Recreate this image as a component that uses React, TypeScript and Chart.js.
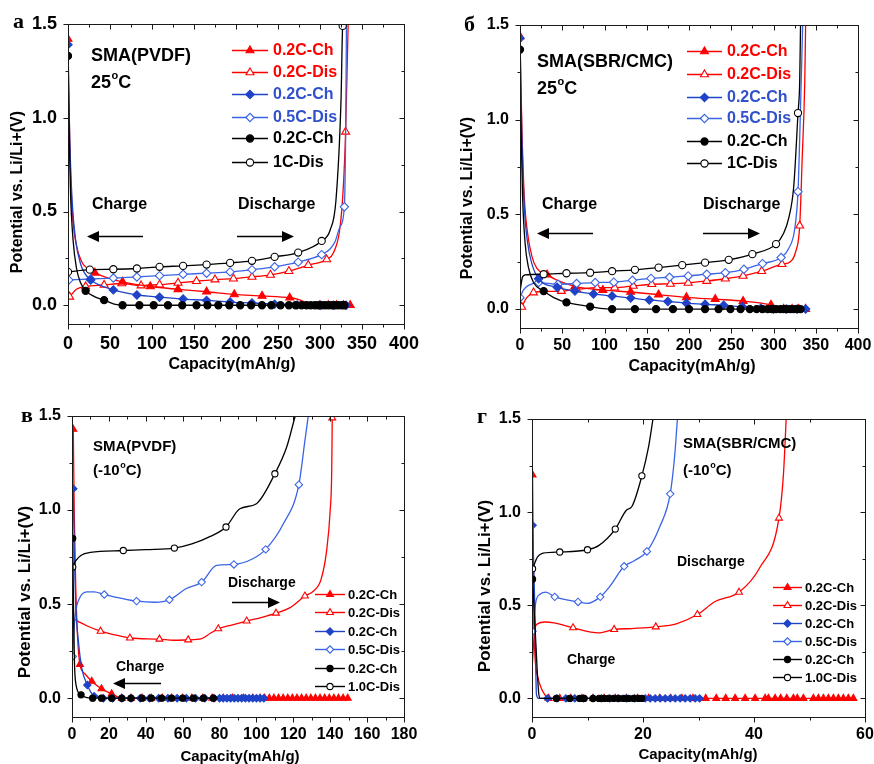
import React, { useEffect, useRef } from "react";
import { Chart, registerables } from "chart.js";
Chart.register(...registerables);

// ---------- DATA (capacity mAh/g, potential V) ----------
// m = points carrying a marker, b = extra curve points (no marker)
// Panel a: SMA(PVDF) 25°C
const aRedChM = [[0,1.42],[32,0.173],[65,0.125],[98,0.1],[131,0.085],[165,0.072],[198,0.058],[231,0.05],[264,0.04],[300,0],[310,0],[320,0],[328,0],[336,0]];
const aRedChB = [[1,1.1],[3,0.7],[6,0.45],[10,0.32],[16,0.235],[22,0.2],[48,0.145],[275,0.03],[285,0.012],[293,0.003]];
const aRedDisM = [[2,0.045],[21,0.1],[43,0.108],[64,0.116],[87,0.105],[109,0.11],[131,0.119],[153,0.128],[175,0.137],[197,0.142],[219,0.151],[241,0.162],[263,0.182],[286,0.214],[308,0.244],[330.5,0.925]];
const aRedDisB = [[10,0.085],[316,0.28],[324,0.42],[328,0.65],[332.5,1.3],[333.5,1.5]];
const aBlueChM = [[0,1.39],[27,0.135],[54,0.082],[82,0.055],[109,0.043],[137,0.033],[165,0.026],[193,0.017],[219,0.012],[246,0.006],[273,0.002],[300,0],[316,0],[331,0]];
const aBlueChB = [[2,0.9],[5,0.55],[9,0.35],[15,0.22],[20,0.17]];
const aBlueDisM = [[1,0.135],[27,0.14],[54,0.145],[82,0.151],[109,0.158],[137,0.165],[165,0.171],[193,0.178],[219,0.19],[246,0.205],[274,0.23],[302,0.27],[329,0.525]];
const aBlueDisB = [[312,0.3],[318,0.34],[324,0.42],[330.5,0.9],[331.5,1.5]];
const aBlackChM = [[0,1.33],[21,0.077],[43,0.027],[65,0],[85,0],[102,0],[119,0],[136,0],[153,0],[166,0],[179,0],[192,0],[205,0],[218,0],[231,0],[242,0],[253,0],[263,0],[271,0],[278,0],[284,0],[289,0],[294,0],[298,0],[302,0],[306,0],[310,0],[314,0],[318,0],[322,0],[326,0],[329,0]];
const aBlackChB = [[1,1.0],[3,0.6],[6,0.35],[10,0.2],[15,0.12],[32,0.045],[55,0.006]];
const aBlackDisM = [[0,0.178],[26,0.19],[54,0.192],[82,0.196],[109,0.205],[137,0.21],[165,0.217],[193,0.226],[219,0.237],[246,0.258],[274,0.281],[302,0.343],[327,1.49]];
const aBlackDisB = [[312,0.4],[319,0.56],[325,1.09],[327.6,1.5]];

// Panel б: SMA(SBR/CMC) 25°C
const bRedChM = [[0,1.44],[32,0.182],[65,0.12],[98,0.1],[131,0.09],[164,0.076],[197,0.062],[231,0.052],[264,0.042],[297,0.022],[312,0],[322,0],[330,0],[338,0]];
const bRedChB = [[2,1.0],[5,0.6],[9,0.4],[14,0.28],[20,0.215],[45,0.15],[306,0.008]];
const bRedDisM = [[2,0.011],[16,0.087],[49,0.095],[67,0.104],[91,0.113],[112,0.113],[134,0.122],[156,0.131],[178,0.133],[199,0.138],[221,0.148],[243,0.16],[264,0.175],[286,0.2],[310,0.237],[331,0.44]];
const bRedDisB = [[8,0.06],[30,0.093],[320,0.25],[326,0.3],[334,0.8],[337,1.2],[338,1.5]];
const bBlueChM = [[0,1.43],[22,0.16],[44,0.115],[65,0.095],[87,0.08],[109,0.069],[131,0.058],[153,0.048],[175,0.04],[197,0.031],[219,0.025],[241,0.02],[263,0.013],[285,0.005],[300,0],[315,0],[328,0],[338,0]];
const bBlueChB = [[2,0.95],[5,0.55],[9,0.35],[14,0.24]];
const bBlueDisM = [[0,0.06],[22,0.14],[45,0.131],[67,0.135],[89,0.14],[111,0.142],[133,0.152],[155,0.162],[177,0.168],[199,0.175],[221,0.184],[243,0.192],[265,0.21],[287,0.24],[309,0.272],[329,0.62]];
const bBlueDisB = [[4,0.1],[10,0.125],[318,0.32],[325,0.42],[331,0.9],[334.5,1.5]];
const bBlackChM = [[0,1.37],[28,0.095],[55,0.035],[83,0.013],[109,0],[136,0],[161,0],[181,0],[200,0],[219,0],[235,0],[249,0],[261,0],[272,0],[280,0],[287,0],[293,0],[298,0],[303,0],[308,0],[312,0],[316,0],[320,0],[324,0],[328,0],[332,0]];
const bBlackChB = [[1,1.0],[3,0.6],[6,0.35],[10,0.22],[16,0.14],[40,0.06],[95,0.004]];
const bBlackDisM = [[28,0.184],[55,0.189],[83,0.192],[109,0.2],[136,0.207],[164,0.219],[192,0.232],[219,0.245],[247,0.26],[275,0.29],[303,0.343],[329,1.035]];
const bBlackDisB = [[0,0.09],[3,0.17],[6,0.18],[312,0.4],[318,0.48],[324,0.65],[331,1.2],[332,1.5]];

// Panel в: SMA(PVDF) -10°C
const vRedChM = [[0.7,1.43],[4.3,0.18],[10.7,0.09],[16,0.05],[21.5,0.023],[27,0],[32,0],[38,0],[43,0],[49,0],[54,0],[60,0],[65,0],[71,0],[76,0],[82,0],[87,0],[93,0],[98,0],[102,0],[104.5,0],[107,0],[109.5,0],[112,0],[114.5,0],[117,0],[119.5,0],[122,0],[124.5,0],[127,0],[129.5,0],[132,0],[134.5,0],[137,0],[139.5,0],[142,0],[144.5,0],[147,0],[149.5,0]];
const vRedChB = [[1.2,1.0],[2,0.6],[3,0.33],[7,0.13],[25,0.006]];
const vRedDisM = [[15.5,0.356],[31.4,0.32],[47.4,0.314],[63,0.31],[79.3,0.369],[94.7,0.41],[110.6,0.452],[126.3,0.543],[141.1,1.49]];
const vRedDisB = [[0.2,0.3],[1,0.42],[3,0.41],[8,0.385],[24,0.335],[55,0.308],[70,0.315],[75,0.345],[87,0.39],[103,0.43],[118,0.48],[131,0.57],[135,0.63],[138,0.78],[140,1.0],[140.8,1.2]];
const vBlueChM = [[0.7,1.113],[8.3,0.07],[12,0.01],[17,0],[22,0],[27,0],[32,0],[37,0],[42,0],[47,0],[52,0],[57,0],[62,0],[67,0],[72,0],[77,0],[80,0],[82,0],[84,0],[86,0],[88,0],[90,0],[92,0],[94,0],[96,0],[98,0],[100,0],[102,0],[104,0]];
const vBlueChB = [[1.2,0.8],[2,0.5],[3.5,0.3],[5.3,0.16],[14.5,0.004]];
const vBlueDisM = [[0.4,0.222],[17.5,0.551],[35,0.516],[52.8,0.523],[70.3,0.617],[87.8,0.711],[105,0.791],[123,1.135]];
const vBlueDisB = [[1,0.35],[2,0.46],[4,0.53],[8,0.565],[12,0.565],[25,0.535],[45,0.51],[62,0.583],[78.4,0.706],[98,0.741],[114.6,0.927],[126.3,1.37],[128.1,1.5]];
const vBlackChM = [[0.4,0.85],[4.9,0.018],[11.2,0],[16,0],[21.5,0],[27,0],[32,0],[38,0],[43,0],[48.6,0],[54,0],[60,0],[65.8,0],[71.2,0],[76.6,0]];
const vBlackChB = [[0.8,0.5],[1.3,0.2],[2.2,0.07],[7.5,0.004],[79,0]];
const vBlackDisM = [[0.4,0.697],[27.8,0.785],[55.5,0.798],[83.5,0.91],[110,1.193]];
const vBlackDisB = [[2,0.73],[5,0.76],[10,0.775],[40,0.79],[65,0.82],[75,0.86],[91,1.007],[100,1.034],[116.4,1.335],[121,1.5]];

// Panel г: SMA(SBR/CMC) -10°C
const gRedChM = [[0.1,1.2],[3,0],[5,0],[7,0],[9,0],[11,0],[13,0],[15,0],[17,0],[19,0],[21,0],[23,0],[25,0],[27,0],[29,0],[31.3,0],[33.2,0],[34.9,0],[36.6,0],[38.4,0],[40.2,0],[42,0],[42.6,0],[43.8,0],[44.8,0],[45.9,0],[47.1,0],[47.8,0],[48.9,0],[50.7,0],[51.6,0],[52.5,0],[53.4,0],[54.3,0],[55.2,0],[56.1,0],[57,0],[57.9,0]];
const gRedChB = [[0.3,0.6],[0.5,0.25],[1,0.12],[1.6,0.06],[2.3,0.02]];
const gRedDisM = [[7.4,0.379],[14.8,0.37],[22.3,0.384],[29.8,0.45],[37.3,0.57],[44.5,0.968]];
const gRedDisB = [[0.05,0.18],[0.5,0.37],[1,0.4],[2.3,0.41],[4,0.405],[12,0.352],[18,0.375],[26,0.4],[33,0.52],[41,0.7],[45.3,1.2],[45.8,1.5]];
const gBlueChM = [[0.1,0.93],[2.8,0],[4.5,0],[6.1,0],[7.7,0],[9.3,0],[11,0],[12.5,0],[14,0],[15.5,0],[17,0],[18.5,0],[20.4,0],[21.3,0],[22.2,0],[23.1,0],[24,0],[24.9,0],[25.8,0],[26.7,0],[27.6,0],[28.5,0],[29.4,0],[30.2,0]];
const gBlueChB = [[0.5,0.5],[0.8,0.02],[1.2,0]];
const gBlueDisM = [[0.1,0.36],[4.1,0.545],[8.3,0.518],[12.3,0.545],[16.6,0.709],[20.7,0.789],[24.9,1.098]];
const gBlueDisB = [[0.7,0.52],[1.5,0.56],[2.5,0.57],[10,0.51],[14,0.6],[18.5,0.74],[23,0.92],[25.7,1.3],[26.2,1.5]];
const gBlackChM = [[0.1,0.64],[4.4,0],[6.8,0],[8.6,0],[9.4,0],[11,0],[12.1,0],[13,0],[13.8,0],[14.7,0],[15.6,0],[16.5,0],[17.4,0],[18.3,0],[19.2,0],[19.8,0]];
const gBlackChB = [[0.6,0.35],[1.2,0.03],[1.5,0]];
const gBlackDisM = [[0.1,0.696],[5,0.786],[10,0.798],[15,0.909],[19.8,1.195]];
const gBlackDisB = [[1,0.76],[2,0.78],[12,0.82],[17,1.01],[18,1.03],[21,1.35],[21.8,1.5]];

const legend25 = ["0.2C-Ch", "0.2C-Dis", "0.2C-Ch", "0.5C-Dis", "0.2C-Ch", "1C-Dis"];
const legendM10 = ["0.2C-Ch", "0.2C-Dis", "0.2C-Ch", "0.5C-Dis", "0.2C-Ch", "1.0C-Dis"];
const yTicks = [0, 0.5, 1.0, 1.5];
const yTitleText = "Potential vs. Li/Li+(V)";
const xTitleText = "Capacity(mAh/g)";

// ---------- STYLE ----------
const FONT = "'Liberation Sans', Arial, Helvetica, sans-serif";
const SERIF = "'Liberation Serif', 'Times New Roman', serif";
const RED = "#ff0000";
const BLUE_CH = "#1f43c8";
const BLUE_DIS = "#3a64e6";
const BLUE_TXT = "#3050cc";
const BLACK = "#000000";

type Style = "triangle" | "rectRot" | "circle";
const seriesStyles: { color: string; txt: string; style: Style; filled: boolean; order: number }[] = [
  { color: RED, txt: RED, style: "triangle", filled: true, order: 2 },
  { color: RED, txt: RED, style: "triangle", filled: false, order: 2 },
  { color: BLUE_CH, txt: BLUE_TXT, style: "rectRot", filled: true, order: 1 },
  { color: BLUE_DIS, txt: BLUE_TXT, style: "rectRot", filled: false, order: 1 },
  { color: BLACK, txt: BLACK, style: "circle", filled: true, order: 0 },
  { color: BLACK, txt: BLACK, style: "circle", filled: false, order: 0 },
];

type Part = { s: string; sup?: boolean };
type TextItem = { parts: Part[]; x: number; y: number; size: number };

const panels = [
  {
    left: 0, top: 0, w: 437, h: 382, area: { l: 68, t: 24, r: 404, b: 324 },
    xMax: 400, xStep: 25, xLab: 50, tickSize: 18, xPad: 1,
    data: [[aRedChM, aRedChB], [aRedDisM, aRedDisB], [aBlueChM, aBlueChB], [aBlueDisM, aBlueDisB], [aBlackChM, aBlackChB], [aBlackDisM, aBlackDisB]],
    labels: legend25,
    rad: { triangle: 4.6, rectRot: 4.2, circle: 3.6 },
    legend: { rows: [50, 72, 94, 117, 138, 162], x0: 232, x1: 268, tx: 273, size: 16, colored: true },
    letter: { t: "а", x: 13, y: 28, size: 22 },
    texts: [
      { parts: [{ s: "SMA(PVDF)" }], x: 91, y: 56, size: 18 },
      { parts: [{ s: "25" }, { s: "o", sup: true }, { s: "C" }], x: 91, y: 83, size: 18 },
      { parts: [{ s: "Charge" }], x: 92, y: 205, size: 16 },
      { parts: [{ s: "Discharge" }], x: 238, y: 205, size: 16 },
    ] as TextItem[],
    arrows: [{ x1: 143, x2: 87, y: 236 }, { x1: 237, x2: 294, y: 236 }],
    yTitle: { x: 18, y: 192, size: 16 }, xTitle: { x: 232, y: 365, size: 16 },
  },
  {
    left: 437, top: 0, w: 437, h: 382, area: { l: 83, t: 25, r: 421, b: 328 },
    xMax: 400, xStep: 25, xLab: 50, tickSize: 16, xPad: 0,
    data: [[bRedChM, bRedChB], [bRedDisM, bRedDisB], [bBlueChM, bBlueChB], [bBlueDisM, bBlueDisB], [bBlackChM, bBlackChB], [bBlackDisM, bBlackDisB]],
    labels: legend25,
    rad: { triangle: 4.6, rectRot: 4.2, circle: 3.6 },
    legend: { rows: [51, 74, 97, 118, 141, 163], x0: 250, x1: 285, tx: 290, size: 16, colored: true },
    letter: { t: "б", x: 27, y: 31, size: 22 },
    texts: [
      { parts: [{ s: "SMA(SBR/CMC)" }], x: 100, y: 62, size: 18 },
      { parts: [{ s: "25" }, { s: "o", sup: true }, { s: "C" }], x: 100, y: 89, size: 18 },
      { parts: [{ s: "Charge" }], x: 105, y: 205, size: 16 },
      { parts: [{ s: "Discharge" }], x: 266, y: 205, size: 16 },
    ] as TextItem[],
    arrows: [{ x1: 156, x2: 100, y: 233 }, { x1: 266, x2: 323, y: 233 }],
    yTitle: { x: 31, y: 198, size: 16 }, xTitle: { x: 255, y: 367, size: 16 },
  },
  {
    left: 0, top: 382, w: 437, h: 382, area: { l: 72, t: 34, r: 404, b: 335 },
    xMax: 180, xStep: 10, xLab: 20, tickSize: 16, xPad: 0,
    data: [[vRedChM, vRedChB], [vRedDisM, vRedDisB], [vBlueChM, vBlueChB], [vBlueDisM, vBlueDisB], [vBlackChM, vBlackChB], [vBlackDisM, vBlackDisB]],
    labels: legendM10,
    rad: { triangle: 4.0, rectRot: 3.7, circle: 3.1 },
    legend: { rows: [212, 230, 249, 267, 286, 304], x0: 315, x1: 345, tx: 348, size: 13, colored: false },
    letter: { t: "в", x: 21, y: 40, size: 22 },
    texts: [
      { parts: [{ s: "SMA(PVDF)" }], x: 93, y: 65, size: 15 },
      { parts: [{ s: "(-10" }, { s: "o", sup: true }, { s: "C)" }], x: 93, y: 89, size: 15 },
      { parts: [{ s: "Discharge" }], x: 228, y: 201, size: 14 },
      { parts: [{ s: "Charge" }], x: 116, y: 285, size: 14 },
    ] as TextItem[],
    arrows: [{ x1: 232, x2: 280, y: 220 }, { x1: 161, x2: 113, y: 301 }],
    yTitle: { x: 25, y: 210, size: 17 }, xTitle: { x: 240, y: 375, size: 15 },
  },
  {
    left: 437, top: 382, w: 437, h: 382, area: { l: 95, t: 37, r: 428, b: 335 },
    xMax: 60, xStep: 10, xLab: 20, tickSize: 16, xPad: 0,
    data: [[gRedChM, gRedChB], [gRedDisM, gRedDisB], [gBlueChM, gBlueChB], [gBlueDisM, gBlueDisB], [gBlackChM, gBlackChB], [gBlackDisM, gBlackDisB]],
    labels: legendM10,
    rad: { triangle: 4.0, rectRot: 3.7, circle: 3.1 },
    legend: { rows: [205, 223, 241, 259, 277, 295], x0: 336, x1: 365, tx: 368, size: 13, colored: false },
    letter: { t: "г", x: 40, y: 41, size: 22 },
    texts: [
      { parts: [{ s: "SMA(SBR/CMC)" }], x: 246, y: 62, size: 15 },
      { parts: [{ s: "(-10" }, { s: "o", sup: true }, { s: "C)" }], x: 246, y: 89, size: 15 },
      { parts: [{ s: "Discharge" }], x: 240, y: 180, size: 14 },
      { parts: [{ s: "Charge" }], x: 130, y: 278, size: 14 },
    ] as TextItem[],
    arrows: [] as { x1: number; x2: number; y: number }[],
    yTitle: { x: 48, y: 204, size: 17 }, xTitle: { x: 261, y: 373, size: 15 },
  },
];

type PanelCfg = (typeof panels)[number];

function build(m: number[][], b: number[][]) {
  const pts = m.map((p) => ({ x: p[0], y: p[1], m: true })).concat(b.map((p) => ({ x: p[0], y: p[1], m: false })));
  pts.sort((p, q) => p.x - q.x);
  return pts;
}

function drawMarker(ctx: CanvasRenderingContext2D, style: Style, x: number, y: number, r: number, color: string, filled: boolean) {
  ctx.beginPath();
  if (style === "circle") {
    ctx.arc(x, y, r, 0, Math.PI * 2);
  } else if (style === "triangle") {
    ctx.moveTo(x, y - r);
    ctx.lineTo(x + r * 0.866, y + r * 0.5);
    ctx.lineTo(x - r * 0.866, y + r * 0.5);
    ctx.closePath();
  } else {
    ctx.moveTo(x - r, y);
    ctx.lineTo(x, y - r);
    ctx.lineTo(x + r, y);
    ctx.lineTo(x, y + r);
    ctx.closePath();
  }
  ctx.fillStyle = filled ? color : "#ffffff";
  ctx.fill();
  ctx.strokeStyle = color;
  ctx.lineWidth = 1.1;
  ctx.stroke();
}

function drawParts(ctx: CanvasRenderingContext2D, parts: Part[], x: number, y: number, size: number) {
  let cx = x;
  ctx.textBaseline = "middle";
  ctx.textAlign = "left";
  for (const p of parts) {
    if (p.sup) {
      ctx.font = `bold ${Math.round(size * 0.6)}px ${FONT}`;
      ctx.fillText(p.s, cx + 0.5, y - size * 0.38);
      cx += ctx.measureText(p.s).width + 0.5;
    } else {
      ctx.font = `bold ${size}px ${FONT}`;
      ctx.fillText(p.s, cx, y);
      cx += ctx.measureText(p.s).width;
    }
  }
}

function Panel({ cfg }: { cfg: PanelCfg }) {
  const ref = useRef<HTMLCanvasElement>(null);
  useEffect(() => {
    const canvas = ref.current!;
    const A = cfg.area;
    const datasets = cfg.data.map((d, i) => {
      const st = seriesStyles[i];
      const r = (cfg.rad as any)[st.style] as number;
      return {
        label: cfg.labels[i],
        data: build(d[0], d[1]),
        showLine: true,
        borderColor: st.color,
        backgroundColor: st.color,
        borderWidth: 1.3,
        cubicInterpolationMode: "monotone" as const,
        pointStyle: st.style,
        pointRadius: (c: any) => (c.raw && c.raw.m ? r : 0),
        pointHoverRadius: 0,
        pointBackgroundColor: st.filled ? st.color : "#ffffff",
        pointBorderColor: st.color,
        pointBorderWidth: 1.1,
        order: st.order,
      };
    });

    const decor = {
      id: "decor",
      afterDraw(chart: any) {
        const ctx: CanvasRenderingContext2D = chart.ctx;
        const ca = chart.chartArea;
        const xs = chart.scales.x;
        const ys = chart.scales.y;
        ctx.save();
        // frame
        ctx.strokeStyle = "#1a1a1a";
        ctx.lineWidth = 1;
        const L = Math.round(ca.left) + 0.5, T = Math.round(ca.top) + 0.5;
        const R = Math.round(ca.right) + 0.5, B = Math.round(ca.bottom) + 0.5;
        ctx.strokeRect(L, T, R - L, B - T);
        const line = (x1: number, y1: number, x2: number, y2: number) => {
          ctx.beginPath(); ctx.moveTo(x1, y1); ctx.lineTo(x2, y2); ctx.stroke();
        };
        ys.ticks.forEach((t: any) => {
          const py = Math.round(ys.getPixelForValue(t.value)) + 0.5;
          const major = yTicks.some((v) => Math.abs(v - t.value) < 1e-6);
          const len = major ? 5 : 3;
          line(L - len, py, L, py);
          line(R - len, py, R, py);
        });
        xs.ticks.forEach((t: any) => {
          const px = Math.round(xs.getPixelForValue(t.value)) + 0.5;
          const major = Math.abs(t.value % cfg.xLab) < 1e-6;
          const len = major ? 5 : 3;
          line(px, B, px, B + len);
          line(px, T, px, T + len);
        });
        // titles
        ctx.fillStyle = "#000";
        ctx.textAlign = "center";
        ctx.textBaseline = "middle";
        ctx.font = `bold ${cfg.xTitle.size}px ${FONT}`;
        ctx.fillText(xTitleText, cfg.xTitle.x, cfg.xTitle.y);
        ctx.save();
        ctx.translate(cfg.yTitle.x, cfg.yTitle.y);
        ctx.rotate(-Math.PI / 2);
        ctx.font = `bold ${cfg.yTitle.size}px ${FONT}`;
        ctx.fillText(yTitleText, 0, 0);
        ctx.restore();
        // panel letter
        ctx.textAlign = "left";
        ctx.textBaseline = "alphabetic";
        ctx.font = `bold ${cfg.letter.size}px ${SERIF}`;
        ctx.fillText(cfg.letter.t, cfg.letter.x, cfg.letter.y);
        // texts
        ctx.fillStyle = "#000";
        cfg.texts.forEach((t) => drawParts(ctx, t.parts, t.x, t.y, t.size));
        // arrows
        ctx.strokeStyle = "#000";
        ctx.fillStyle = "#000";
        cfg.arrows.forEach((a) => {
          const dir = a.x2 > a.x1 ? 1 : -1;
          ctx.lineWidth = 1.6;
          line(a.x1, a.y + 0.5, a.x2 - dir * 9, a.y + 0.5);
          ctx.beginPath();
          ctx.moveTo(a.x2, a.y + 0.5);
          ctx.lineTo(a.x2 - dir * 12, a.y - 5);
          ctx.lineTo(a.x2 - dir * 12, a.y + 6);
          ctx.closePath();
          ctx.fill();
        });
        // legend
        const lg = cfg.legend;
        cfg.labels.forEach((lab, i) => {
          const st = seriesStyles[i];
          const y = lg.rows[i];
          ctx.strokeStyle = st.color;
          ctx.lineWidth = 1.4;
          line(lg.x0, y + 0.5, lg.x1, y + 0.5);
          const r = (cfg.rad as any)[st.style] as number;
          drawMarker(ctx, st.style, (lg.x0 + lg.x1) / 2, y + 0.5, r, st.color, st.filled);
          ctx.fillStyle = lg.colored ? st.txt : "#000";
          ctx.font = `bold ${lg.size}px ${FONT}`;
          ctx.textAlign = "left";
          ctx.textBaseline = "middle";
          ctx.fillText(lab, lg.tx, y + 1);
        });
        ctx.restore();
      },
    };

    const chart = new Chart(canvas, {
      type: "scatter",
      data: { datasets: datasets as any },
      options: {
        animation: false,
        responsive: false,
        events: [],
        layout: { padding: { left: 0, top: A.t, right: cfg.w - A.r, bottom: 0 } },
        plugins: { legend: { display: false }, tooltip: { enabled: false } },
        scales: {
          x: {
            type: "linear",
            min: 0,
            max: cfg.xMax,
            grid: { display: false },
            border: { display: false },
            ticks: {
              stepSize: cfg.xStep,
              autoSkip: false,
              maxRotation: 0,
              includeBounds: false,
              padding: cfg.xPad,
              color: "#000",
              font: { family: FONT, size: cfg.tickSize, weight: "bold" },
              callback: (v: any) => (Math.abs(Number(v) % cfg.xLab) < 1e-6 ? String(v) : ""),
            },
            afterFit: (s: any) => { s.height = cfg.h - A.b; },
          },
          y: {
            type: "linear",
            min: -0.1,
            max: 1.5,
            grid: { display: false },
            border: { display: false },
            ticks: {
              stepSize: 0.25,
              autoSkip: false,
              includeBounds: false,
              padding: 3,
              color: "#000",
              font: { family: FONT, size: cfg.tickSize, weight: "bold" },
              callback: (v: any) => {
                const n = Number(v);
                return yTicks.some((t) => Math.abs(t - n) < 1e-6) ? n.toFixed(1) : "";
              },
            },
            afterFit: (s: any) => { s.width = A.l; },
          },
        },
      } as any,
      plugins: [decor],
    });
    return () => chart.destroy();
  }, [cfg]);
  return (
    <canvas
      ref={ref}
      width={cfg.w}
      height={cfg.h}
      style={{ position: "absolute", left: cfg.left, top: cfg.top, width: cfg.w, height: cfg.h }}
    />
  );
}

export default function App() {
  return (
    <div style={{ position: "absolute", left: 0, top: 0, width: 874, height: 764, background: "#ffffff", overflow: "hidden" }}>
      {panels.map((p, i) => (
        <Panel key={i} cfg={p} />
      ))}
    </div>
  );
}
